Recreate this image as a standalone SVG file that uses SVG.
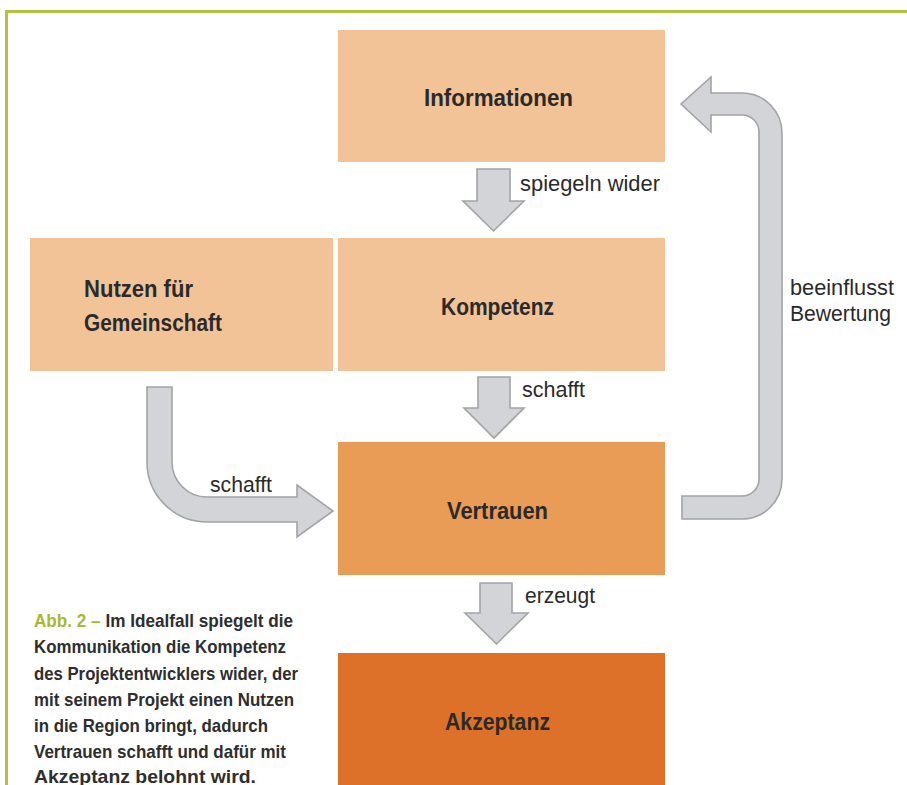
<svg xmlns="http://www.w3.org/2000/svg" width="907" height="785" viewBox="0 0 907 785">
<style>
.box1{fill:#f3c398}
.box2{fill:#e89c55}
.box3{fill:#de7129}
.lbl{font-family:"Liberation Sans",Arial,sans-serif;font-weight:bold;font-size:23px;fill:#2a2a2a}
.edge{font-family:"Liberation Sans",Arial,sans-serif;font-size:22px;fill:#2a2a2a}
.arr{fill:#d3d4d7;stroke:#a1a3a6;stroke-width:1.6;stroke-linejoin:miter}
.cap{font-family:"Liberation Sans",Arial,sans-serif;font-weight:bold;font-size:18.5px;fill:#2e2e2e}
</style>
<rect width="907" height="785" fill="#fff"/>
<path d="M6.5 785 V11.5 H907" fill="none" stroke="#b4c23e" stroke-width="3"/>

<g id="informationen">
<rect class="box1" x="338" y="30" width="327" height="132"/>
<text class="lbl" x="498.5" y="106" text-anchor="middle" textLength="149" lengthAdjust="spacingAndGlyphs">Informationen</text>
</g>
<g id="nutzen">
<rect class="box1" x="30" y="238" width="303" height="133"/>
<text class="lbl" x="84" y="297" textLength="109" lengthAdjust="spacingAndGlyphs">Nutzen für</text>
<text class="lbl" x="84" y="331" textLength="138" lengthAdjust="spacingAndGlyphs">Gemeinschaft</text>
</g>
<g id="kompetenz">
<rect class="box1" x="338" y="238" width="327" height="133"/>
<text class="lbl" x="497.5" y="315" text-anchor="middle" textLength="113" lengthAdjust="spacingAndGlyphs">Kompetenz</text>
</g>
<g id="vertrauen">
<rect class="box2" x="338" y="442" width="327" height="133"/>
<text class="lbl" x="497.5" y="519" text-anchor="middle" textLength="101" lengthAdjust="spacingAndGlyphs">Vertrauen</text>
</g>
<g id="akzeptanz">
<rect class="box3" x="338" y="653" width="327" height="132"/>
<text class="lbl" x="497.5" y="730" text-anchor="middle" textLength="105" lengthAdjust="spacingAndGlyphs">Akzeptanz</text>
</g>

<g id="connectors">
<path class="arr" d="M477 169 H510 V201 H524 L493.5 231 L463 201 H477 Z"/>
<text class="edge" x="520" y="191" textLength="140" lengthAdjust="spacingAndGlyphs">spiegeln wider</text>
<path class="arr" d="M478 377 H510 V408 H524 L494 438 L464 408 H478 Z"/>
<text class="edge" x="522" y="397" textLength="63" lengthAdjust="spacingAndGlyphs">schafft</text>
<path class="arr" d="M480 583 H512 V613 H528 L496.5 644 L465 613 H480 Z"/>
<text class="edge" x="525" y="603" textLength="70" lengthAdjust="spacingAndGlyphs">erzeugt</text>
<path class="arr" d="M147 387 H172 V462 A35 35 0 0 0 207 497 H297 V485 L333 511 L297 537 V522 H207 A60 60 0 0 1 147 462 Z"/>
<text class="edge" x="210" y="492" textLength="62" lengthAdjust="spacingAndGlyphs">schafft</text>
<path class="arr" d="M682 496 H742 A17 17 0 0 0 759 479 V132 A17 17 0 0 0 742 115 H711 V132 L681 104 L711 77 V93 H742 A40 40 0 0 1 782 133 V479 A40 40 0 0 1 742 519 H682 Z"/>
<text class="edge" x="790" y="295" textLength="104" lengthAdjust="spacingAndGlyphs">beeinflusst</text>
<text class="edge" x="790" y="321" textLength="101" lengthAdjust="spacingAndGlyphs">Bewertung</text>
</g>

<g id="caption">
<text class="cap" x="34" y="627" textLength="259" lengthAdjust="spacingAndGlyphs"><tspan fill="#a9b833">Abb. 2 – </tspan>Im Idealfall spiegelt die</text>
<text class="cap" x="34" y="653" textLength="252" lengthAdjust="spacingAndGlyphs">Kommunikation die Kompetenz</text>
<text class="cap" x="34" y="680" textLength="264" lengthAdjust="spacingAndGlyphs">des Projektentwicklers wider, der</text>
<text class="cap" x="34" y="706" textLength="260" lengthAdjust="spacingAndGlyphs">mit seinem Projekt einen Nutzen</text>
<text class="cap" x="34" y="732" textLength="234" lengthAdjust="spacingAndGlyphs">in die Region bringt, dadurch</text>
<text class="cap" x="34" y="758" textLength="252" lengthAdjust="spacingAndGlyphs">Vertrauen schafft und dafür mit</text>
<text class="cap" x="34" y="783" textLength="222" lengthAdjust="spacingAndGlyphs">Akzeptanz belohnt wird.</text>
</g>
</svg>
